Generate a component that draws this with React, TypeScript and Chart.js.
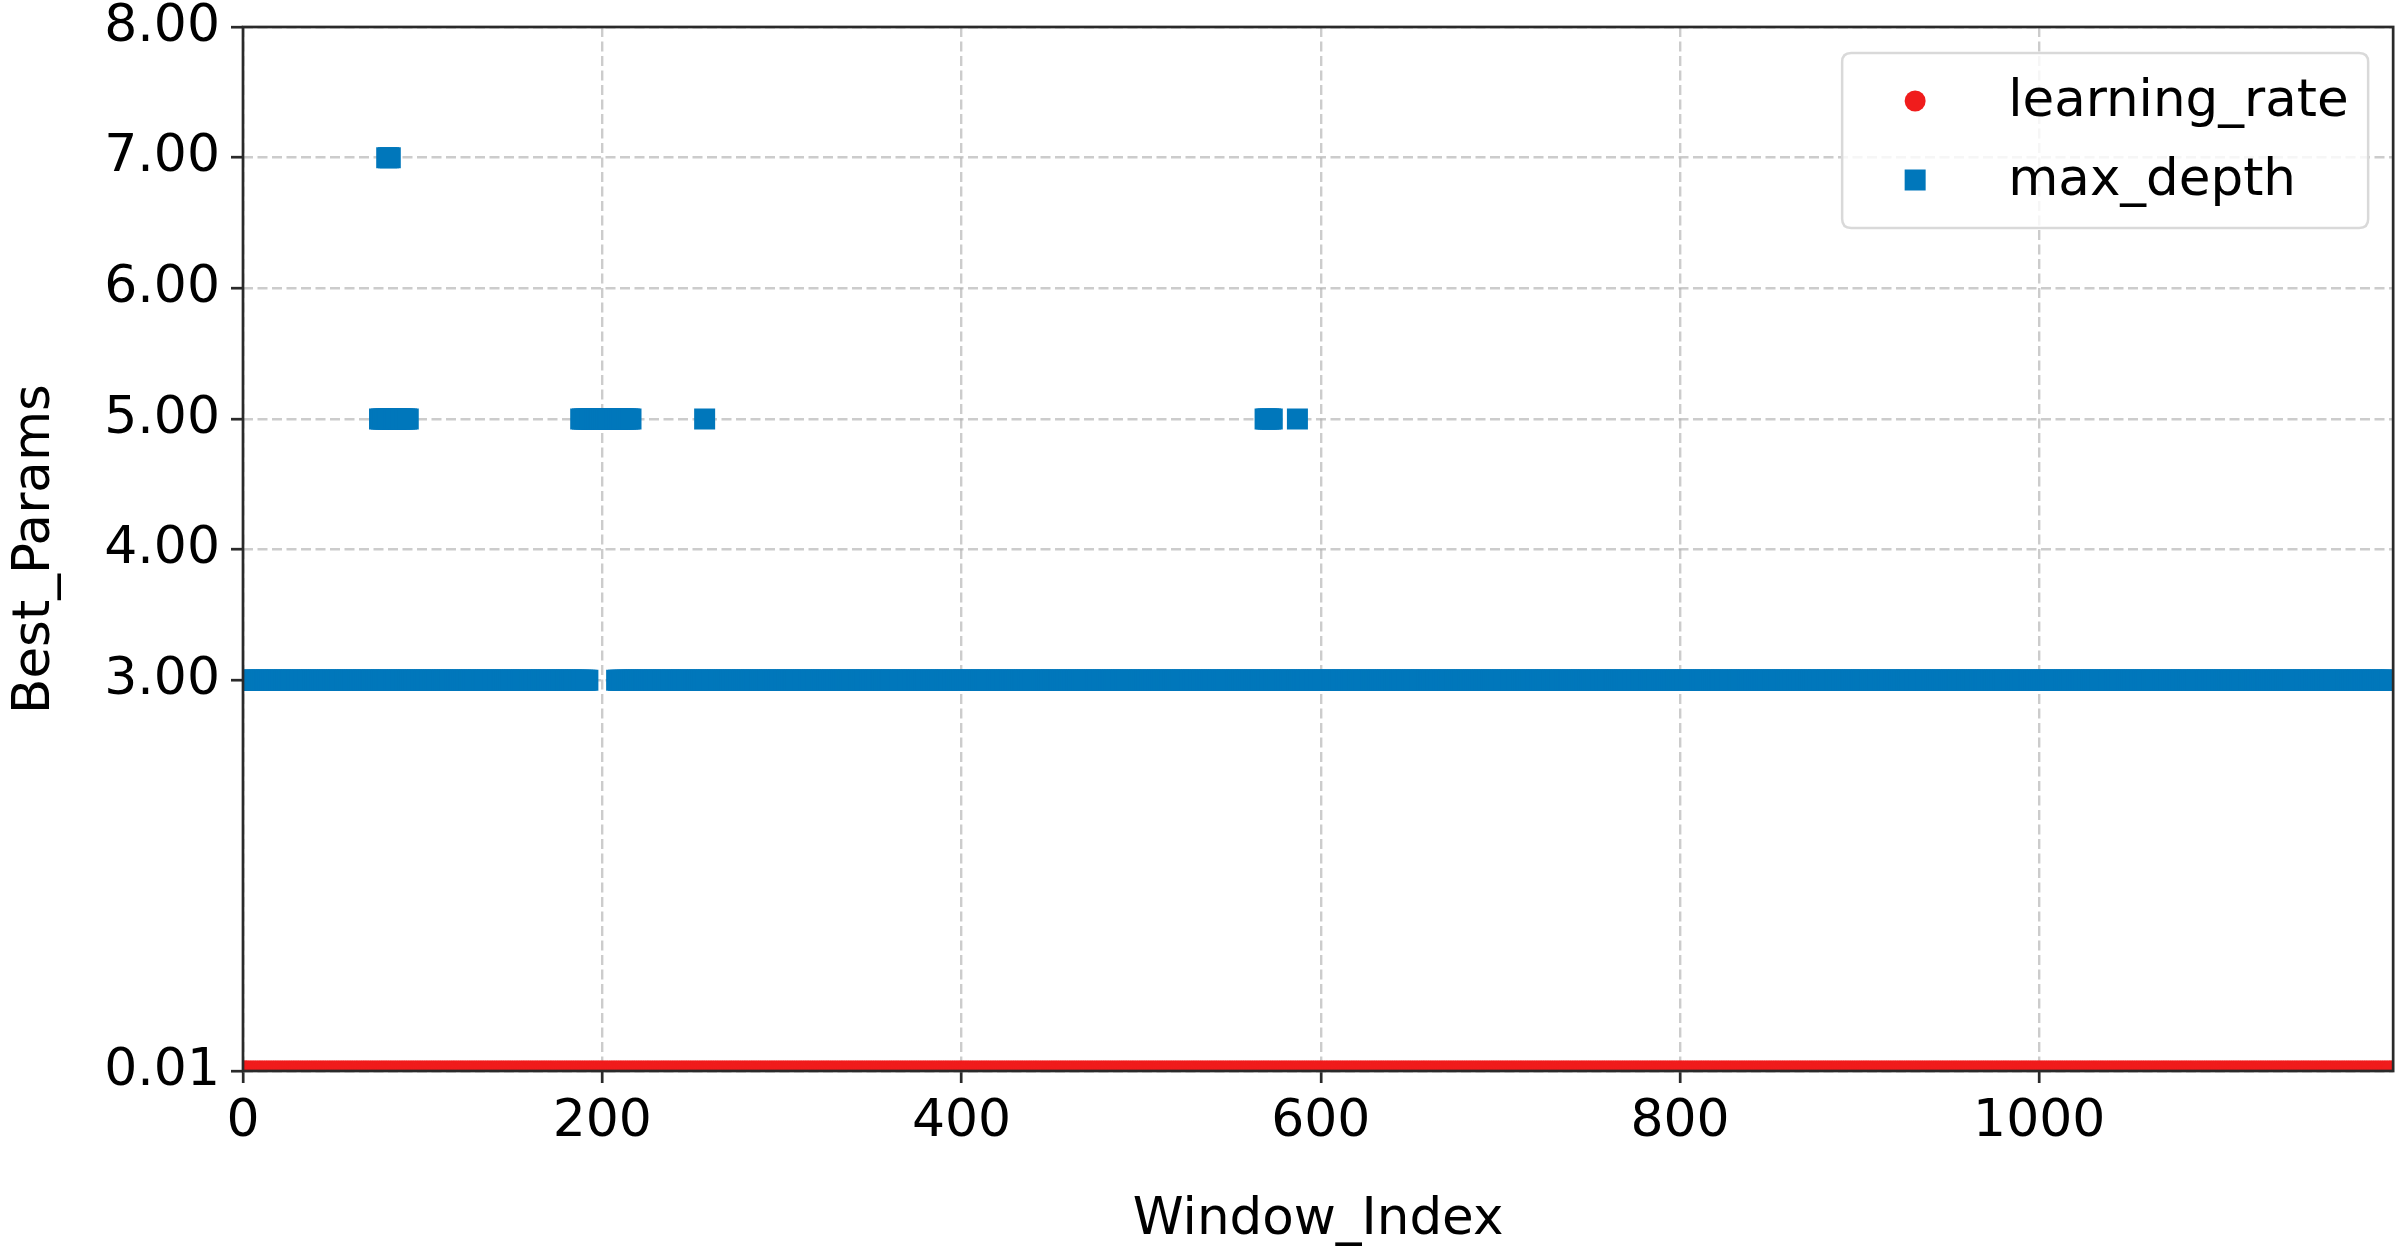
import React, { useEffect, useRef } from "react";
import { Chart, registerables } from "chart.js";

Chart.register(...registerables);

// ---- data ----
const X_MIN = 0;
const X_MAX = 1197;
const Y_MIN = 0.01;
const Y_MAX = 8;
const xTickValues = [0, 200, 400, 600, 800, 1000];
const yTickValues = [0.01, 3, 4, 5, 6, 7, 8];
const seriesNames = ["learning_rate", "max_depth"];
// runs of constant value: [firstWindow, lastWindow, value]
const learningRateRuns: [number, number, number][] = [[0, 1196, 0.01]];
const maxDepthRuns: [number, number, number][] = [
  [0, 192, 3],
  [208, 1196, 3],
  [76, 92, 5],
  [80, 82, 7],
  [188, 216, 5],
  [257, 257, 5],
  [569, 573, 5],
  [587, 587, 5],
];

const RED = "#f01c1c";
const BLUE = "#0077bb";
const GRID = "rgba(176,176,176,0.65)";
const SPINE = "#2a2a2a";
const FONT = "DejaVu Sans";
const TICK_SIZE = 52;
const TITLE_SIZE = 51.5;
const LEGEND_SIZE = 51.5;

function expandRuns(runs: [number, number, number][]) {
  const pts: { x: number; y: number }[] = [];
  for (const [a, b, v] of runs) {
    for (let i = a; i <= b; i++) pts.push({ x: i, y: v });
  }
  return pts;
}

const framePlugin = {
  id: "frameAndLegend",
  afterDraw(chart: any) {
    const { ctx, chartArea } = chart;
    ctx.save();
    // spines
    ctx.strokeStyle = SPINE;
    ctx.lineWidth = 2.7;
    ctx.setLineDash([]);
    ctx.strokeRect(
      chartArea.left,
      chartArea.top,
      chartArea.right - chartArea.left,
      chartArea.bottom - chartArea.top
    );
    // legend
    const right = chartArea.right - 25;
    const top = chartArea.top + 26;
    const w = 526;
    const h = 175;
    const left = right - w;
    const r = 9;
    ctx.beginPath();
    ctx.moveTo(left + r, top);
    ctx.lineTo(left + w - r, top);
    ctx.quadraticCurveTo(left + w, top, left + w, top + r);
    ctx.lineTo(left + w, top + h - r);
    ctx.quadraticCurveTo(left + w, top + h, left + w - r, top + h);
    ctx.lineTo(left + r, top + h);
    ctx.quadraticCurveTo(left, top + h, left, top + h - r);
    ctx.lineTo(left, top + r);
    ctx.quadraticCurveTo(left, top, left + r, top);
    ctx.closePath();
    ctx.fillStyle = "rgba(255,255,255,0.82)";
    ctx.fill();
    ctx.strokeStyle = "#d9d9d9";
    ctx.lineWidth = 2.5;
    ctx.stroke();

    const mx = left + 73;
    const rows = [top + 48, top + 127];
    const ds = chart.data.datasets;
    // circle marker
    ctx.fillStyle = ds[0].backgroundColor;
    ctx.beginPath();
    ctx.arc(mx, rows[0], 10.5, 0, Math.PI * 2);
    ctx.fill();
    // square marker
    ctx.fillStyle = ds[1].backgroundColor;
    ctx.fillRect(mx - 10.5, rows[1] - 10.5, 21, 21);

    ctx.fillStyle = "#000";
    ctx.font = `${LEGEND_SIZE}px "${FONT}"`;
    ctx.textAlign = "left";
    ctx.textBaseline = "alphabetic";
    ctx.fillText(ds[0].label, left + 166, rows[0] + 15);
    ctx.fillText(ds[1].label, left + 166, rows[1] + 15);
    ctx.restore();
  },
};

export default function App() {
  const ref = useRef<HTMLCanvasElement>(null);

  useEffect(() => {
    const lr = expandRuns(learningRateRuns);
    const md = expandRuns(maxDepthRuns);
    const chart = new Chart(ref.current!, {
      type: "scatter",
      data: {
        datasets: [
          {
            label: seriesNames[0],
            data: lr,
            pointStyle: "circle",
            pointRadius: 10.5,
            pointBorderWidth: 0,
            backgroundColor: RED,
            borderColor: RED,
            clip: 0,
          },
          {
            label: seriesNames[1],
            data: md,
            pointStyle: "rect",
            pointRadius: 14.85,
            pointBorderWidth: 0,
            backgroundColor: BLUE,
            borderColor: BLUE,
            clip: 0,
          },
        ],
      },
      options: {
        animation: false,
        responsive: false,
        devicePixelRatio: 1,
        events: [],
        layout: { padding: { top: 27, right: 14, left: 0, bottom: 0 } },
        plugins: {
          legend: { display: false },
          tooltip: { enabled: false },
        },
        scales: {
          x: {
            type: "linear",
            min: X_MIN,
            max: X_MAX,
            z: 1,
            afterBuildTicks: (s: any) => {
              s.ticks = xTickValues.map((v) => ({ value: v }));
            },
            afterFit: (s: any) => {
              s.height = 188;
              s.paddingLeft = 0;
              s.paddingRight = 0;
            },
            ticks: {
              font: { family: FONT, size: TICK_SIZE, lineHeight: 1 },
              color: "#000",
              padding: 13,
              maxRotation: 0,
              autoSkip: false,
              callback: (v: any) => String(v),
            },
            grid: {
              color: GRID,
              lineWidth: 2.4,
              tickLength: 12,
              tickColor: SPINE,
              tickWidth: 2.7,
            },
            border: { display: false, dash: [10, 4.5] },
            title: {
              display: true,
              text: "Window_Index",
              color: "#000",
              font: { family: FONT, size: TITLE_SIZE, lineHeight: 1.2 },
              padding: { top: 0, bottom: 7 },
            },
          },
          y: {
            type: "linear",
            min: Y_MIN,
            max: Y_MAX,
            z: 1,
            afterBuildTicks: (s: any) => {
              s.ticks = yTickValues.map((v) => ({ value: v }));
            },
            afterFit: (s: any) => {
              s.width = 243;
              s.paddingTop = 0;
              s.paddingBottom = 0;
            },
            ticks: {
              font: { family: FONT, size: TICK_SIZE, lineHeight: 1 },
              color: "#000",
              padding: 11,
              autoSkip: false,
              callback: (v: any) => Number(v).toFixed(2),
            },
            grid: {
              color: GRID,
              lineWidth: 2.4,
              tickLength: 12,
              tickColor: SPINE,
              tickWidth: 2.7,
            },
            border: { display: false, dash: [10, 4.5] },
            title: {
              display: true,
              text: "Best_Params",
              color: "#000",
              font: { family: FONT, size: TITLE_SIZE, lineHeight: 1.2 },
              padding: { top: 5, bottom: 0 },
            },
          },
        },
      },
      plugins: [framePlugin],
    } as any);
    return () => chart.destroy();
  }, []);

  return (
    <div
      style={{
        position: "fixed",
        left: 0,
        top: 0,
        width: 2408,
        height: 1259,
        background: "#fff",
      }}
    >
      <canvas
        ref={ref}
        width={2408}
        height={1259}
        style={{ width: 2408, height: 1259, display: "block" }}
      />
    </div>
  );
}
